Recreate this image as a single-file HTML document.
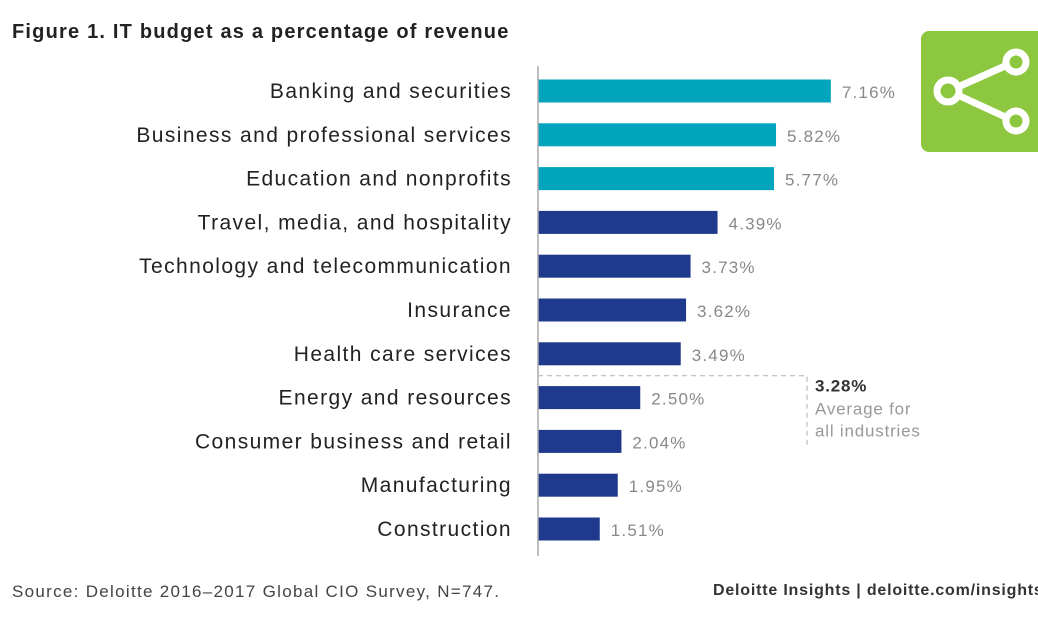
<!DOCTYPE html>
<html><head><meta charset="utf-8"><style>
body{margin:0;width:1038px;height:620px;background:#fff;overflow:hidden;font-family:"Liberation Sans",sans-serif;position:relative}
.t{position:absolute}
</style></head><body>
<div class="t" style="left:12px;top:21px;font-size:20px;letter-spacing:1.2px;font-weight:bold;color:#222">Figure 1. IT budget as a percentage of revenue</div>
<div class="t" style="left:921px;top:31px;width:125px;height:121px;background:#8dc63f;border-radius:8px">
<svg width="117" height="121" viewBox="0 0 117 121"><g stroke="#fff" stroke-width="7" fill="none"><line x1="28" y1="60" x2="93" y2="31"/><line x1="28" y1="60" x2="93" y2="90"/><circle cx="27" cy="60" r="11" fill="#8dc63f"/><circle cx="95" cy="31" r="10" fill="#8dc63f"/><circle cx="95" cy="90" r="10" fill="#8dc63f"/></g></svg></div>
<svg class="t" style="left:0;top:0" width="1038" height="620" id="chart"></svg>
<div class="t" style="left:12px;top:582px;font-size:17px;letter-spacing:1.3px;color:#444">Source: Deloitte 2016–2017 Global CIO Survey, N=747.</div>
<div class="t" style="left:713px;top:582px;font-size:16px;letter-spacing:0.8px;font-weight:bold;color:#333;white-space:nowrap">Deloitte Insights | deloitte.com/insights</div>
<script>
const categories=["Banking and securities","Business and professional services","Education and nonprofits","Travel, media, and hospitality","Technology and telecommunication","Insurance","Health care services","Energy and resources","Consumer business and retail","Manufacturing","Construction"];
const values=[7.16,5.82,5.77,4.39,3.73,3.62,3.49,2.50,2.04,1.95,1.51];
const highlighted=[true,true,true,false,false,false,false,false,false,false,false];
const average=3.28;
const svg=document.getElementById('chart');
const NS='http://www.w3.org/2000/svg';
const x0=538,scale=40.9,y0=91,step=43.8,bh=23;
const X=v=>x0+v*scale, Y=i=>y0+i*step;
function mk(tag,attrs,text){const e=document.createElementNS(NS,tag);for(const k in attrs)e.setAttribute(k,attrs[k]);if(text!==undefined)e.textContent=text;svg.appendChild(e);return e;}
categories.forEach((c,i)=>{
 const l=mk('text',{x:512,y:Y(i)+7,'text-anchor':'end','font-size':21,'letter-spacing':1.4,fill:'#222','font-family':'Liberation Sans, sans-serif'},c);
 
 
 const b=mk('rect',{x:x0,y:Y(i)-bh/2,width:X(values[i])-x0,height:bh,fill:highlighted[i]?'#00a4bd':'#1f3a8c'});
 
 
 const v=mk('text',{x:X(values[i])+11,y:Y(i)+7,'font-size':17,'letter-spacing':1.2,fill:'#888','font-family':'Liberation Sans, sans-serif'},values[i].toFixed(2)+'%');
 
 
});
const ax=mk('line',{x1:x0,y1:66,x2:x0,y2:556,stroke:'#aaa','stroke-width':1.5});


const ay=Y(6)+(Y(7)-Y(6))/2;
const ah=mk('polyline',{points:`${x0},${ay} 807,${ay} 807,${ay+73}`,fill:'none',stroke:'#bbb','stroke-width':1.2,'stroke-dasharray':'5,4'});


const at=mk('text',{x:815,y:ay+16,'font-size':17,'letter-spacing':0.8,fill:'#333','font-weight':'bold','font-family':'Liberation Sans, sans-serif'},average.toFixed(2)+'%');


const a2=mk('text',{x:815,y:ay+39,'font-size':17,'letter-spacing':0.8,fill:'#999','font-family':'Liberation Sans, sans-serif'},'Average for');


const a3=mk('text',{x:815,y:ay+61,'font-size':17,'letter-spacing':0.8,fill:'#999','font-family':'Liberation Sans, sans-serif'},'all industries');


</script>
</body></html>
